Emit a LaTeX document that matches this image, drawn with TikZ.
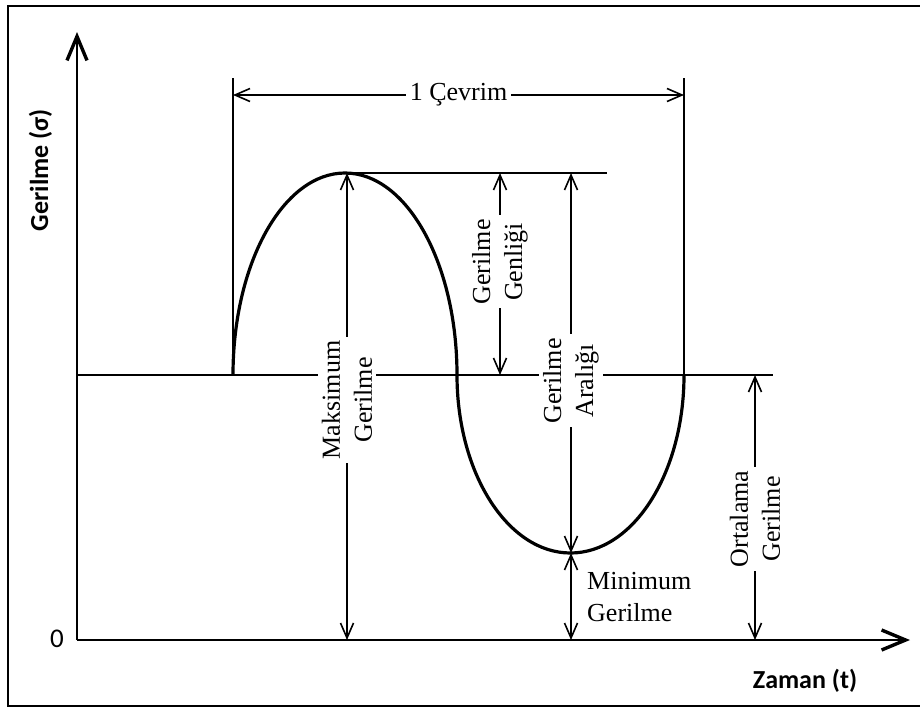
\documentclass[tikz,border=0pt]{standalone}
\usepackage{fontspec}
\setmainfont{Liberation Serif}
\setsansfont{Carlito}
\usetikzlibrary{arrows.meta}

\begin{document}
\begin{tikzpicture}[x=1pt,y=-1pt,
  axis/.style={line width=2pt,-{Straight Barb[length=24pt,width=20pt,line width=3.4pt]}},
  dim/.style={line width=1.4pt,{Straight Barb[length=15pt,width=13pt,line width=1.6pt]}-{Straight Barb[length=15pt,width=13pt,line width=1.6pt]}},
  ext/.style={line width=1.6pt},
  lbl/.style={font=\fontsize{26}{32}\selectfont,align=center,fill=white,inner sep=4pt},
  rlbl/.style={lbl,rotate=90},
  axlbl/.style={font=\sffamily\bfseries\fontsize{26}{30}\selectfont}]
\useasboundingbox (0,0) rectangle (920,707);
\draw[line width=2pt] (922,6) -- (8,6) -- (8,706) -- (922,706);
\coordinate (o) at (77,640);
\coordinate (ytip) at (77,32);
\coordinate (xtip) at (910,640);
\coordinate (m0) at (77,375);
\coordinate (m1) at (773,375);
\coordinate (c0) at (233,375);
\coordinate (c1) at (457,375);
\coordinate (c2) at (684,375);
\coordinate (c0t) at (233,78);
\coordinate (c2t) at (684,78);
\coordinate (cy0) at (233,95);
\coordinate (cy1) at (684,95);
\coordinate (pk) at (347,173);
\coordinate (pkr) at (607,173);
\coordinate (tr) at (571,553);
\coordinate (g0) at (500,173);
\coordinate (g1) at (500,375);
\coordinate (r0) at (571,173);
\coordinate (a0) at (755,375);
\draw[axis] (o) -- (xtip);
\draw[axis] (o) -- (ytip);
\draw[ext] (m0) -- (m1);
\draw[ext] (c0) -- (c0t);
\draw[ext] (c2) -- (c2t);
\draw[ext] (pk) -- (pkr);
\draw[line width=3.2pt] (c0) arc[start angle=180,end angle=360,x radius=112,y radius=202] arc[start angle=180,end angle=0,x radius=113.5,y radius=178];
\draw[dim] (cy0) -- (cy1) node[midway,lbl] (cyc) {1 Çevrim};
\draw[dim] (pk) -- (pk |- o) node[pos=0.486,rlbl] (maxl) {Maksimum\\Gerilme};
\draw[dim] (g0) -- (g1) node[pos=0.44,rlbl] (genl) {Gerilme\\Genliği};
\draw[dim] (r0) -- (tr) node[pos=0.547,rlbl] (aral) {Gerilme\\Aralığı};
\draw[dim] (tr) -- (tr |- o);
\draw[dim] (a0) -- (a0 |- o) node[pos=0.543,rlbl] (ortl) {Ortalama\\Gerilme};
\node[lbl,fill=none,align=left,anchor=west] (minl) at (583,597) {Minimum\\Gerilme};
\node[axlbl,anchor=base] (xlbl) at (805,688) {Zaman (t)};
\node[axlbl,anchor=base,rotate=90] (ylbl) at (48,170) {Gerilme (σ)};
\node[axlbl,font=\sffamily\fontsize{27}{30}\selectfont] (zero) at (57,639) {0};
\end{tikzpicture}
\end{document}
